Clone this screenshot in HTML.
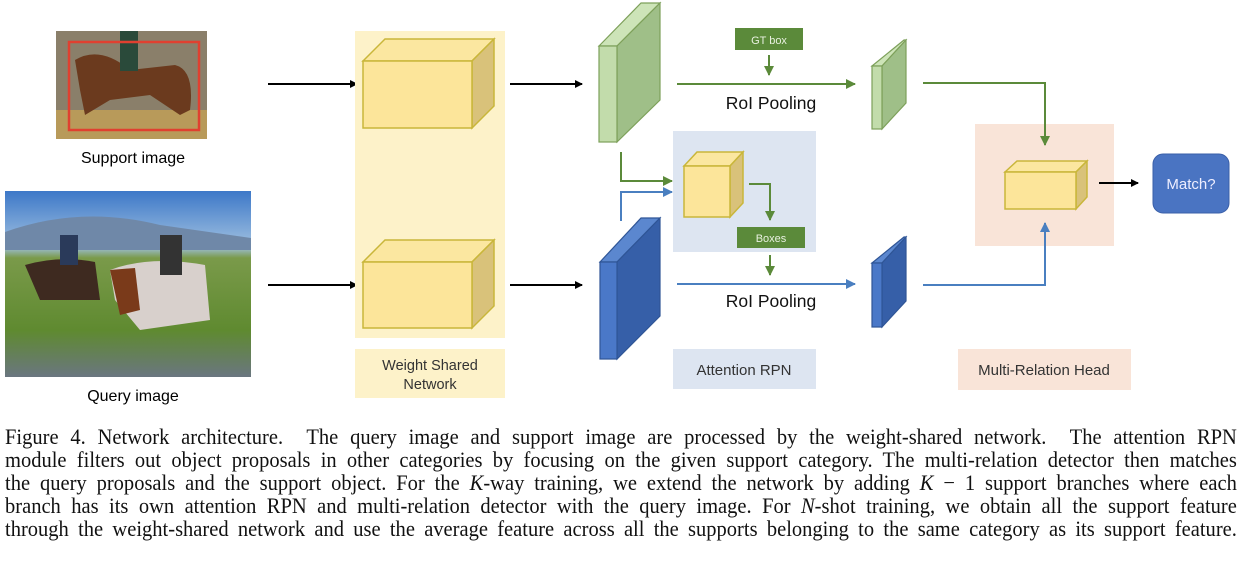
<!DOCTYPE html>
<html><head><meta charset="utf-8"><style>
body{margin:0;width:1240px;height:562px;background:#fff;overflow:hidden;position:relative}
.cap{position:absolute;left:5px;width:1339px;top:425px;font-family:"Liberation Serif",serif;font-size:22.3px;line-height:23px;color:#111;transform:scaleX(0.92);transform-origin:0 0}
.cap div{text-align:justify;text-align-last:justify;white-space:nowrap}
</style></head><body>
<svg width="1240" height="420" style="position:absolute;left:0;top:0" font-family="Liberation Sans, sans-serif">
<defs>
<marker id="ak" markerWidth="8" markerHeight="8" refX="7" refY="4" orient="auto" markerUnits="userSpaceOnUse"><path d="M0,0 L8,4 L0,8z" fill="#000"/></marker>
<marker id="ag" markerWidth="10" markerHeight="10" refX="9" refY="5" orient="auto" markerUnits="userSpaceOnUse"><path d="M0,0 L10,5 L0,10z" fill="#5b8a3a"/></marker>
<marker id="ab" markerWidth="10" markerHeight="10" refX="9" refY="5" orient="auto" markerUnits="userSpaceOnUse"><path d="M0,0 L10,5 L0,10z" fill="#4a7fc0"/></marker>
<linearGradient id="sky" x1="0" y1="0" x2="0" y2="1"><stop offset="0" stop-color="#3d78c8"/><stop offset="0.3" stop-color="#9fc0e0"/><stop offset="0.36" stop-color="#7a9a4a"/><stop offset="0.75" stop-color="#5f8a30"/><stop offset="1" stop-color="#6a7680"/></linearGradient>
</defs>
<rect x="56" y="31" width="151" height="108" fill="#8a7f6a"/>
<rect x="56" y="110" width="151" height="29" fill="#b89a5a"/>
<path d="M75,60 Q100,45 130,70 L175,65 Q195,70 190,110 L180,115 L150,95 L110,100 L85,115 L80,90Z" fill="#6b3a1e"/>
<rect x="120" y="31" width="18" height="40" fill="#2a4a3a"/>
<rect x="69" y="42" width="130" height="88" fill="none" stroke="#e04030" stroke-width="2.5"/>
<text x="133" y="163" font-size="16" text-anchor="middle">Support image</text>
<rect x="5" y="191" width="246" height="186" fill="url(#sky)"/>
<path d="M5,232 Q80,205 160,225 L251,238 L251,250 L5,250Z" fill="#6f88a8"/>
<path d="M25,265 Q60,255 95,262 L100,300 L40,300Z" fill="#3e2a20"/>
<path d="M110,270 Q150,255 205,265 L210,320 L140,330 L115,300Z" fill="#d8d0cc"/>
<path d="M110,270 L135,268 L140,310 L120,315Z" fill="#7a3a1a"/>
<rect x="160" y="235" width="22" height="40" fill="#333"/>
<rect x="60" y="235" width="18" height="30" fill="#2a3a5a"/>
<text x="133" y="401" font-size="16" text-anchor="middle">Query image</text>
<line x1="268" y1="84" x2="357" y2="84" stroke="#000" stroke-width="2" marker-end="url(#ak)"/>
<line x1="268" y1="285" x2="357" y2="285" stroke="#000" stroke-width="2" marker-end="url(#ak)"/>
<rect x="355" y="31" width="150" height="307" fill="#fdf2c9"/>
<rect x="355" y="349" width="150" height="49" fill="#fdf2c9"/>
<text x="430" y="370" font-size="14.5" text-anchor="middle" fill="#333">Weight Shared</text>
<text x="430" y="389" font-size="14.5" text-anchor="middle" fill="#333">Network</text>
<g stroke="#c9b63a" stroke-width="1.5">
<path d="M363,61 L385,39 L494,39 L472,61Z" fill="#fbe7a0"/><path d="M472,61 L494,39 L494,106 L472,128Z" fill="#d9c27a"/><rect x="363" y="61" width="109" height="67" fill="#fce59a"/>
<path d="M363,262 L385,240 L494,240 L472,262Z" fill="#fbe7a0"/><path d="M472,262 L494,240 L494,306 L472,328Z" fill="#d9c27a"/><rect x="363" y="262" width="109" height="66" fill="#fce59a"/>
</g>
<line x1="510" y1="84" x2="582" y2="84" stroke="#000" stroke-width="2" marker-end="url(#ak)"/>
<line x1="510" y1="285" x2="582" y2="285" stroke="#000" stroke-width="2" marker-end="url(#ak)"/>
<g stroke="#7da05a" stroke-width="1.2">
<path d="M599,46 L641,3 L660,3 L617,46Z" fill="#cde4b8"/><path d="M617,46 L660,3 L660,100 L617,142Z" fill="#9fbf88"/><rect x="599" y="46" width="18" height="96" fill="#c2dcab"/>
<path d="M872,66 L904,40 L906,40 L882,66Z" fill="#cde4b8"/><path d="M882,66 L906,40 L906,103 L882,129Z" fill="#9fbf88"/><rect x="872" y="66" width="10" height="63" fill="#c2dcab"/>
</g>
<g stroke="#2f5596" stroke-width="1.2">
<path d="M600,262 L641,218 L660,218 L617,262Z" fill="#5b87cf"/><path d="M617,262 L660,218 L660,316 L617,359Z" fill="#365fa8"/><rect x="600" y="262" width="17" height="97" fill="#4a78c8"/>
<path d="M872,263 L904,237 L906,237 L882,263Z" fill="#5b87cf"/><path d="M882,263 L906,237 L906,301 L882,327Z" fill="#365fa8"/><rect x="872" y="263" width="10" height="64" fill="#4a78c8"/>
</g>
<rect x="673" y="131" width="143" height="121" fill="#dde5f1"/>
<rect x="673" y="349" width="143" height="40" fill="#dde5f1"/>
<text x="744" y="375" font-size="15" text-anchor="middle" fill="#333">Attention RPN</text>
<g stroke="#c9b63a" stroke-width="1.5">
<path d="M684,166 L697,152 L743,152 L730,166Z" fill="#fbe7a0"/><path d="M730,166 L743,152 L743,203 L730,217Z" fill="#d9c27a"/><rect x="684" y="166" width="46" height="51" fill="#fce59a"/>
</g>
<rect x="735" y="28" width="68" height="22" fill="#5b8a3a"/><text x="769" y="44" font-size="11" text-anchor="middle" fill="#e8f0e0">GT box</text>
<rect x="737" y="227" width="68" height="21" fill="#5b8a3a"/><text x="771" y="242" font-size="11" text-anchor="middle" fill="#e8f0e0">Boxes</text>
<rect x="975" y="124" width="139" height="122" fill="#f9e4d8"/>
<rect x="958" y="349" width="173" height="41" fill="#f9e4d8"/>
<text x="1044" y="375" font-size="15" text-anchor="middle" fill="#333">Multi-Relation Head</text>
<g fill="none" stroke-width="2">
<line x1="769" y1="55" x2="769" y2="75" stroke="#5b8a3a" marker-end="url(#ag)"/>
<line x1="677" y1="84" x2="855" y2="84" stroke="#5b8a3a" marker-end="url(#ag)"/>
<path d="M621,152 L621,181 L672,181" stroke="#5b8a3a" marker-end="url(#ag)"/>
<path d="M621,221 L621,192 L672,192" stroke="#4a7fc0" marker-end="url(#ab)"/>
<path d="M749,184 L770,184 L770,220" stroke="#5b8a3a" marker-end="url(#ag)"/>
<line x1="770" y1="255" x2="770" y2="275" stroke="#5b8a3a" marker-end="url(#ag)"/>
<line x1="677" y1="284" x2="855" y2="284" stroke="#4a7fc0" marker-end="url(#ab)"/>
<path d="M923,83 L1045,83 L1045,145" stroke="#5b8a3a" marker-end="url(#ag)"/>
<path d="M923,285 L1045,285 L1045,223" stroke="#4a7fc0" marker-end="url(#ab)"/>
</g>
<text x="771" y="109" font-size="17.5" text-anchor="middle" fill="#111">RoI Pooling</text>
<text x="771" y="307" font-size="17.5" text-anchor="middle" fill="#111">RoI Pooling</text>
<g stroke="#c9b63a" stroke-width="1.5">
<path d="M1005,172 L1017,161 L1087,161 L1076,172Z" fill="#fbe7a0"/><path d="M1076,172 L1087,161 L1087,197 L1076,209Z" fill="#d9c27a"/><rect x="1005" y="172" width="71" height="37" fill="#fce59a"/>
</g>
<line x1="1099" y1="183" x2="1138" y2="183" stroke="#000" stroke-width="2" marker-end="url(#ak)"/>
<rect x="1153" y="154" width="76" height="59" rx="10" fill="#4a74c2" stroke="#3a5fa8"/>
<text x="1191" y="189" font-size="15" text-anchor="middle" fill="#eef">Match?</text>
</svg>
<div class="cap">
<div>Figure 4. Network architecture.&nbsp; The query image and support image are processed by the weight-shared network.&nbsp; The attention RPN</div>
<div>module filters out object proposals in other categories by focusing on the given support category. The multi-relation detector then matches</div>
<div>the query proposals and the support object. For the <i>K</i>-way training, we extend the network by adding <i>K</i> − 1 support branches where each</div>
<div>branch has its own attention RPN and multi-relation detector with the query image. For <i>N</i>-shot training, we obtain all the support feature</div>
<div>through the weight-shared network and use the average feature across all the supports belonging to the same category as its support feature.</div>
</div>
</body></html>
